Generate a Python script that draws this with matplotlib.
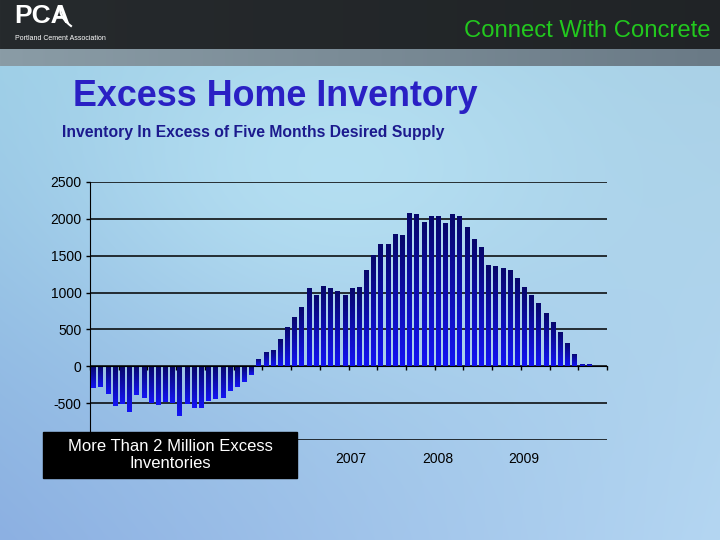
import numpy as np
import matplotlib.pyplot as plt
from matplotlib.colors import to_rgb, LinearSegmentedColormap
from matplotlib.patches import Rectangle

plt.rcParams['font.family'] = ['Liberation Sans', 'DejaVu Sans']
plt.rcParams['image.composite_image'] = False

# excess inventory by month, Jan 2004 .. Dec 2009 (thousands)
values = [-300, -275, -380, -545, -515, -625, -395, -435, -495, -530, -480, -495,
          -680, -515, -560, -570, -475, -450, -435, -330, -275, -215, -115, 100,
          195, 220, 365, 535, 670, 805, 1060, 965, 1085, 1065, 1020, 965,
          1060, 1070, 1300, 1505, 1665, 1665, 1800, 1775, 2080, 2070, 1955, 2045,
          2045, 1950, 2060, 2045, 1885, 1720, 1615, 1370, 1355, 1330, 1300, 1200,
          1070, 965, 855, 720, 600, 465, 315, 170, 30, 30, 0, -15]
year_labels = ["2007", "2008", "2009"]
year_pos = [36, 48, 60]
yticks = [-1000, -500, 0, 500, 1000, 1500, 2000, 2500]
# the -1000 label sits under the callout box in the original
ytick_labels = ["", "-500", "0", "500", "1000", "1500", "2000", "2500"]

W, H = 720, 540
fig = plt.figure(figsize=(W / 100, H / 100), dpi=100)

# ---- slide background
bg = np.zeros((H, W, 3))
xx = np.linspace(0, 1, W)[None, :]
yy = np.linspace(0, 1, H - 66)[:, None]
tl, tr = np.array(to_rgb("#9ccde6")), np.array(to_rgb("#a9d0e6"))
bl, br = np.array(to_rgb("#8cb0e2")), np.array(to_rgb("#b4d6f2"))
blue = ((1 - xx) * (1 - yy))[..., None] * tl + (xx * (1 - yy))[..., None] * tr \
    + ((1 - xx) * yy)[..., None] * bl + (xx * yy)[..., None] * br
gx = np.arange(W)[None, :]
gy = np.arange(66, H)[:, None]
blob = np.exp(-(((gx - 330) / 260.0) ** 2 + ((gy - 170) / 170.0) ** 2))[..., None]
blue = blue * (1 - 0.6 * blob) + np.array(to_rgb("#c0ebf8")) * 0.6 * blob
bg[66:] = blue
bg[:49] = np.array(to_rgb("#262a2d"))[None, None, :] * (1 - 0.15 * xx[..., None])
band_l, band_r = np.array(to_rgb("#8a9ca6")), np.array(to_rgb("#6a7a86"))
bg[49:66] = ((1 - xx)[..., None] * band_l + xx[..., None] * band_r)
bgax = fig.add_axes([0, 0, 1, 1], zorder=-10)
bgax.imshow(bg, aspect="auto", extent=(0, W, H, 0))
bgax.set_xlim(0, W)
bgax.set_ylim(H, 0)
bgax.axis("off")

# ---- header texts
fig.text(14 / W, 1 - 16 / H, "PCA", color="white", fontsize=19, fontweight="bold",
         va="center", ha="left")
t = np.linspace(0, 1, 20)
bgax.plot(60 + 11 * t, 9 + 17 * t ** 0.5, color="white", lw=1.5)
fig.text(15 / W, 1 - 38 / H, "Portland Cement Association", color="white",
         fontsize=5, va="center", ha="left")
fig.text(710 / W, 1 - 31 / H, "Connect With Concrete", color="#22c81e",
         fontsize=17.2, va="center", ha="right")
fig.text(73 / W, 1 - 97 / H, "Excess Home Inventory", color="#2a20c4",
         fontsize=25.8, fontweight="bold", va="center", ha="left")
fig.text(62 / W, 1 - 132 / H, "Inventory In Excess of Five Months Desired Supply",
         color="#1c1a8e", fontsize=11.3, fontweight="bold", va="center", ha="left")

# ---- chart
ax = fig.add_axes([90 / W, 1 - 440 / H, (607 - 90) / W, (440 - 182) / H])
ax.patch.set_alpha(0)
x = np.arange(len(values)) + 0.5
bars = ax.bar(x, values, width=0.65, color="#1010c0", zorder=3)
grad = LinearSegmentedColormap.from_list("g", ["#07076a", "#1414f4"])
gimg = np.linspace(0, 1, 64)[:, None]
for b in bars:
    x0, y0, w, h = b.get_x(), b.get_y(), b.get_width(), b.get_height()
    lo, hi = min(y0, y0 + h), max(y0, y0 + h)
    im = ax.imshow(gimg, cmap=grad, aspect="auto", extent=(x0, x0 + w, lo, hi),
                   origin="upper", zorder=4)
    im.set_clip_path(b)
    b.set_visible(False)

ax.set_xlim(0, len(values))
ax.set_ylim(yticks[0], yticks[-1])
ax.set_yticks(yticks)
ax.set_yticklabels(ytick_labels, fontsize=10)
ax.set_axisbelow(True)
ax.yaxis.grid(True, color="black", lw=1.1, zorder=0)
ax.spines["top"].set_visible(False)
ax.spines["right"].set_visible(False)
ax.spines["left"].set_color("black")
ax.spines["bottom"].set_position(("data", 0))
ax.spines["bottom"].set_color("black")
ax.spines["bottom"].set_zorder(5)
ax.set_xticks(np.arange(0, len(values) + 1, 4))
ax.tick_params(axis="x", direction="out", length=3, width=1, labelbottom=False)
ax.tick_params(axis="y", direction="out", length=3, width=1, pad=3)
for p, lab in zip(year_pos, year_labels):
    ax.annotate(lab, xy=(p, yticks[0]), xytext=(2, -14), textcoords="offset points",
                ha="center", va="center", fontsize=10, annotation_clip=False)

# ---- callout box
fig.patches.append(Rectangle((43 / W, 1 - 478 / H), (297 - 43) / W, (478 - 432) / H,
                             transform=fig.transFigure, color="black", zorder=20))
fig.text(170 / W, 1 - 455 / H, "More Than 2 Million Excess\nInventories", color="white",
         fontsize=12, ha="center", va="center", linespacing=1.1, zorder=21)

fig.savefig("out.png", dpi=100)
